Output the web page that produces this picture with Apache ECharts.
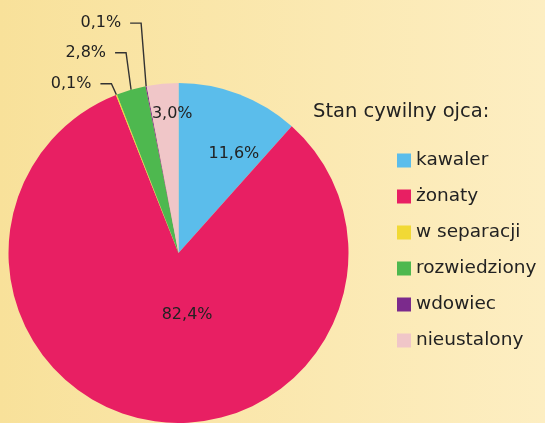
<!DOCTYPE html>
<html>
<head>
<meta charset="utf-8">
<script src="https://cdn.jsdelivr.net/npm/echarts@6/dist/echarts.min.js"></script>
<style>
  html, body { margin: 0; padding: 0; }
  #chart { width: 545px; height: 423px; }
</style>
</head>
<body>
<div id="chart"></div>
<script>
const categories = ['kawaler', 'żonaty', 'w separacji', 'rozwiedziony', 'wdowiec', 'nieustalony']
const values = [11.6, 82.4, 0.1, 2.8, 0.1, 3.0]
const colors = ['#5bbdeb', '#e81f63', '#f1d935', '#4eb84f', '#7b2a8c', '#f0c6c8']
const outsideIdx = [2, 3, 4]

const fmt = (v) => v.toFixed(1).replace('.', ',') + '%'

// label placement tweaks (inside: shift, outside: how far up the label goes)
const insideShift = { 0: [24, -17], 1: [24, -25], 5: [2, -52] }
const outsideRise = { 2: 11, 3: 37, 4: 63 }

const chart = echarts.init(document.getElementById('chart'))

chart.setOption({
  backgroundColor: {
    type: 'linear', x: 0, y: 0, x2: 1, y2: 0,
    colorStops: [
      { offset: 0, color: '#f8e19a' },
      { offset: 1, color: '#fdeec2' }
    ]
  },
  textStyle: { fontFamily: 'DejaVu Sans' },
  title: {
    text: 'Stan cywilny ojca:',
    left: 308,
    top: 97,
    textStyle: { fontSize: 19.5, fontWeight: 'normal', color: '#222' }
  },
  legend: {
    orient: 'vertical',
    left: 392,
    top: 146,
    icon: 'rect',
    itemWidth: 14,
    itemHeight: 14,
    itemGap: 17,
    selectedMode: false,
    textStyle: { fontSize: 18.5, color: '#222' },
    data: categories
  },
  series: [{
    type: 'pie',
    center: [178.5, 253],
    radius: 170,
    startAngle: 90,
    clockwise: true,
    animation: false,
    silent: true,
    label: {
      position: 'inside',
      fontSize: 16,
      color: '#222',
      formatter: (p) => fmt(p.value)
    },
    labelLine: { show: false },
    labelLayout: (params) => {
      const i = params.dataIndex
      if (insideShift[i]) {
        return { dx: insideShift[i][0], dy: insideShift[i][1] }
      }
      if (outsideRise[i] !== undefined && params.labelLinePoints) {
        const p0 = params.labelLinePoints[0]
        const bendX = p0[0] - 5
        const y = p0[1] - outsideRise[i]
        const endX = bendX - 11
        return {
          x: endX - 9,
          y: y,
          align: 'right',
          verticalAlign: 'middle',
          labelLinePoints: [p0, [bendX, y], [endX, y]]
        }
      }
    },
    data: categories.map((name, i) => {
      const outside = outsideIdx.includes(i)
      return {
        name,
        value: values[i],
        itemStyle: { color: colors[i] },
        label: outside ? { position: 'outside' } : undefined,
        labelLine: outside ? { show: true, length: 10, length2: 10, lineStyle: { color: '#333', width: 1.4 } } : undefined
      }
    })
  }]
})
</script>
</body>
</html>
